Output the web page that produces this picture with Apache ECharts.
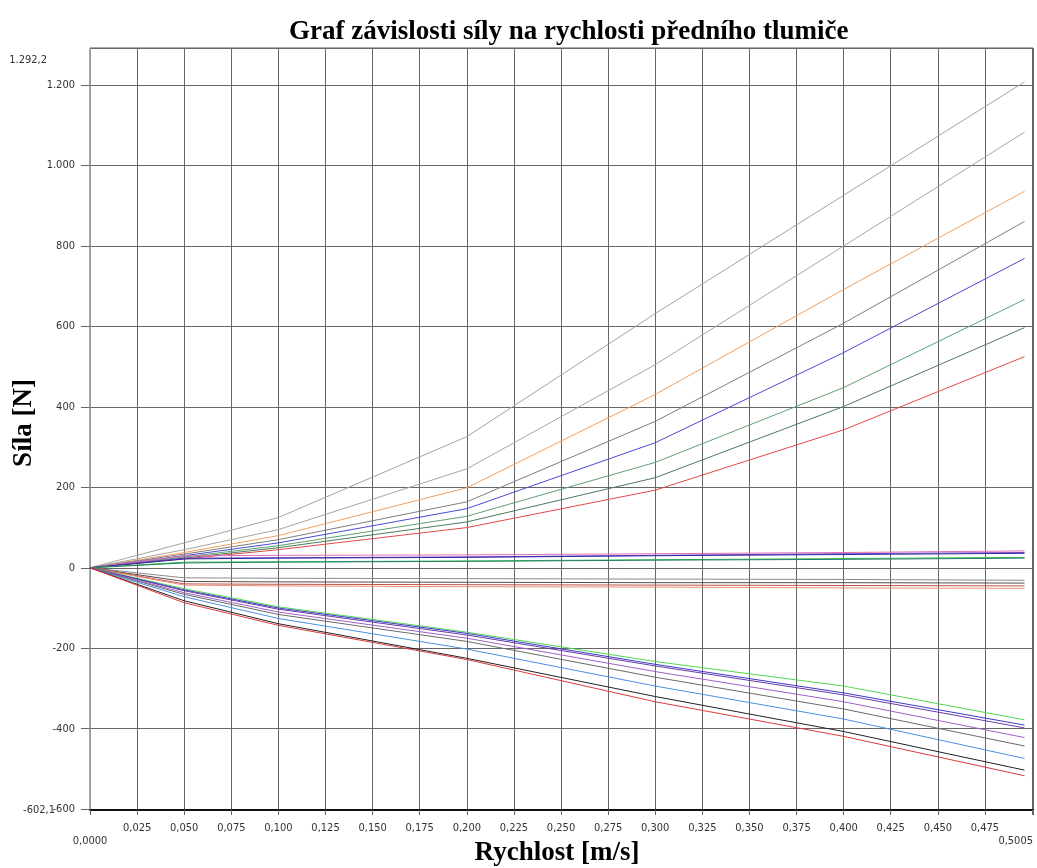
<!DOCTYPE html>
<html>
<head>
<meta charset="utf-8">
<script src="https://cdn.jsdelivr.net/npm/echarts@6/dist/echarts.min.js"></script>
<style>
  html, body { margin: 0; padding: 0; background: #fff; }
  #chart { width: 1037px; height: 868px; }
</style>
</head>
<body>
<div id="chart"></div>
<script>
// rychlosti [m/s]
var speeds = [0, 0.05, 0.1, 0.2, 0.3, 0.4, 0.496];

// tah (kladne sily)
var posGray1 = [0, 62, 125, 326, 632, 926, 1208];
var posGray2 = [0, 45, 95, 246, 505, 800, 1083];
var posOrange = [0, 38, 80, 199, 431, 692, 936];
var posGray3 = [0, 34, 70, 164, 364, 608, 861];
var posBlue = [0, 30, 62, 147, 311, 535, 769];
var posGreen1 = [0, 27, 55, 128, 262, 448, 667];
var posGreen2 = [0, 24, 50, 114, 224, 401, 597];
var posRed = [0, 22, 45, 100, 193, 343, 525];

// male sily kolem nuly
var nearPink = [0, 30, 31, 32, 35, 38, 42];
var nearPurple = [0, 24, 25, 27, 31, 35, 38];
var nearNavy = [0, 22, 24, 26, 30, 33, 36];
var nearGreen = [0, 14, 15, 17, 20, 23, 26];
var nearTeal = [0, 12, 14, 16, 19, 21, 24];
var nearGray = [0, -25, -26, -27, -28, -29, -31];
var nearDark = [0, -34, -35, -36, -37, -37, -38];
var nearBrown = [0, -40, -41, -42, -43, -44, -45];
var nearOrange = [0, -43, -45, -47, -48, -50, -51];

// tlak (zaporne sily)
var negGreen = [0, -52, -97, -160, -233, -294, -378];
var negBlue = [0, -55, -100, -163, -240, -311, -391];
var negViolet = [0, -57, -103, -167, -244, -316, -398];
var negPurple = [0, -62, -110, -175, -258, -333, -422];
var negGray = [0, -66, -116, -183, -272, -351, -443];
var negLightBlue = [0, -72, -126, -202, -294, -376, -474];
var negBlack = [0, -82, -139, -225, -320, -407, -503];
var negRed = [0, -87, -143, -228, -333, -419, -517];

var yMin = -602.1;
var yMax = 1292.2;
var xMin = 0;
var xMax = 0.5005;

var curves = [
  [posGray1, "#a3a3a3"],
  [posGray2, "#aaa49a"],
  [posOrange, "#f0a060"],
  [posGray3, "#7d7d7d"],
  [posBlue, "#4a4ad6"],
  [posGreen1, "#5f9f70"],
  [posGreen2, "#4d7a5c"],
  [posRed, "#e24a4a"],
  [nearPink, "#e070b8"],
  [nearPurple, "#8040c8"],
  [nearNavy, "#2a2aa0"],
  [nearGreen, "#30c050"],
  [nearTeal, "#2a7a6a"],
  [nearGray, "#8a8a8a"],
  [nearDark, "#5a4a4a"],
  [nearBrown, "#c05050"],
  [nearOrange, "#e89070"],
  [negGreen, "#50d850"],
  [negBlue, "#3a3ac8"],
  [negViolet, "#6a3aa8"],
  [negPurple, "#a060c8"],
  [negGray, "#6a6a6a"],
  [negLightBlue, "#4a90e0"],
  [negBlack, "#222222"],
  [negRed, "#e03a3a"]
];

function czNumber(v) {
  var neg = v < 0;
  var s = Math.abs(Math.round(v)).toString();
  s = s.replace(/\B(?=(\d{3})+(?!\d))/g, ".");
  return (neg ? "-" : "") + s;
}

var labelFont = "'DejaVu Sans Condensed', 'Liberation Sans Narrow', sans-serif";
var serifFont = "'Liberation Serif', 'DejaVu Serif', serif";

function yAxisBase() {
  return {
    type: "value",
    min: yMin,
    max: yMax,
    splitNumber: 9,
    minInterval: 200,
    maxInterval: 200
  };
}

var dom = document.getElementById("chart");
var myChart = echarts.init(dom, null, { renderer: "canvas" });

var mainY = Object.assign(yAxisBase(), {
  name: "Síla [N]",
  nameLocation: "middle",
  nameRotate: 90,
  nameGap: 52,
  nameMoveOverlap: false,
  nameTextStyle: {
    fontFamily: serifFont,
    fontWeight: "bold",
    fontSize: 27,
    color: "#000",
    padding: [0, 0, 0, 12]
  },
  axisLine: { show: true, lineStyle: { color: "#999", width: 1 } },
  axisTick: { show: true, length: 9, lineStyle: { color: "#666" } },
  splitLine: { show: true, lineStyle: { color: "#666", width: 1 } },
  axisLabel: {
    margin: 15,
    fontFamily: labelFont,
    fontSize: 11,
    color: "#333",
    showMinLabel: false,
    showMaxLabel: false,
    formatter: function (v) {
      if (Math.abs(v - yMax) < 0.01 || Math.abs(v - yMin) < 0.01) return "";
      return czNumber(v);
    }
  }
});

// druha osa jen pro krajni hodnoty rozsahu
var edgeY = Object.assign(yAxisBase(), {
  position: "left",
  offset: 0,
  axisLine: { show: false },
  axisTick: { show: false },
  splitLine: { show: false },
  axisLabel: {
    margin: 15,
    fontFamily: labelFont,
    fontSize: 11,
    color: "#333",
    showMinLabel: true,
    showMaxLabel: true,
    formatter: function (v) {
      if (Math.abs(v - yMax) < 0.01) return "{top|1.292,2}";
      if (Math.abs(v - yMin) < 0.01) return "{bot|-602,1}";
      return "";
    },
    rich: {
      top: { padding: [24, 28, 0, 0], fontFamily: labelFont, fontSize: 11, color: "#333" },
      bot: { padding: [0, 20, 0, 0], fontFamily: labelFont, fontSize: 11, color: "#333" }
    }
  }
});

var option = {
  animation: false,
  title: {
    text: "Graf závislosti síly na rychlosti předního tlumiče",
    left: 284,
    top: 14,
    textStyle: {
      fontFamily: serifFont,
      fontWeight: "bold",
      fontSize: 27,
      color: "#000"
    }
  },
  grid: {
    left: 90,
    right: 4,
    top: 48,
    bottom: 58,
    containLabel: false,
    outerBoundsMode: "none",
    show: true,
    borderColor: "#555",
    borderWidth: 1
  },
  xAxis: {
    type: "value",
    min: xMin,
    max: xMax,
    interval: 0.025,
    name: "Rychlost [m/s]",
    nameLocation: "middle",
    nameGap: 30,
    nameMoveOverlap: false,
    nameTextStyle: {
      fontFamily: serifFont,
      fontWeight: "bold",
      fontSize: 27,
      color: "#000",
      padding: [0, 9, 0, 0]
    },
    axisLine: { onZero: false, lineStyle: { color: "#111", width: 2 } },
    axisTick: { show: true, length: 5, lineStyle: { color: "#666" } },
    splitLine: { show: true, lineStyle: { color: "#666", width: 1 } },
    axisLabel: {
      margin: 13,
      fontFamily: labelFont,
      fontSize: 11,
      color: "#333",
      showMinLabel: true,
      showMaxLabel: true,
      alignMaxLabel: "right",
      formatter: function (v) {
        if (v === 0) return "{edge|0,0000}";
        if (v > 0.5001) return "{edge|0,5005}";
        if (Math.abs(v - 0.5) < 1e-6) return "";
        return v.toFixed(3).replace(".", ",");
      },
      rich: {
        edge: { padding: [13, 0, 0, 0], fontFamily: labelFont, fontSize: 11, color: "#333" }
      }
    }
  },
  yAxis: [mainY, edgeY],
  series: curves.map(function (c) {
    return {
      type: "line",
      data: speeds.map(function (s, i) { return [s, c[0][i]]; }),
      symbol: "none",
      lineStyle: { color: c[1], width: 1 },
      silent: true
    };
  })
};

option && myChart.setOption(option);
</script>
</body>
</html>
